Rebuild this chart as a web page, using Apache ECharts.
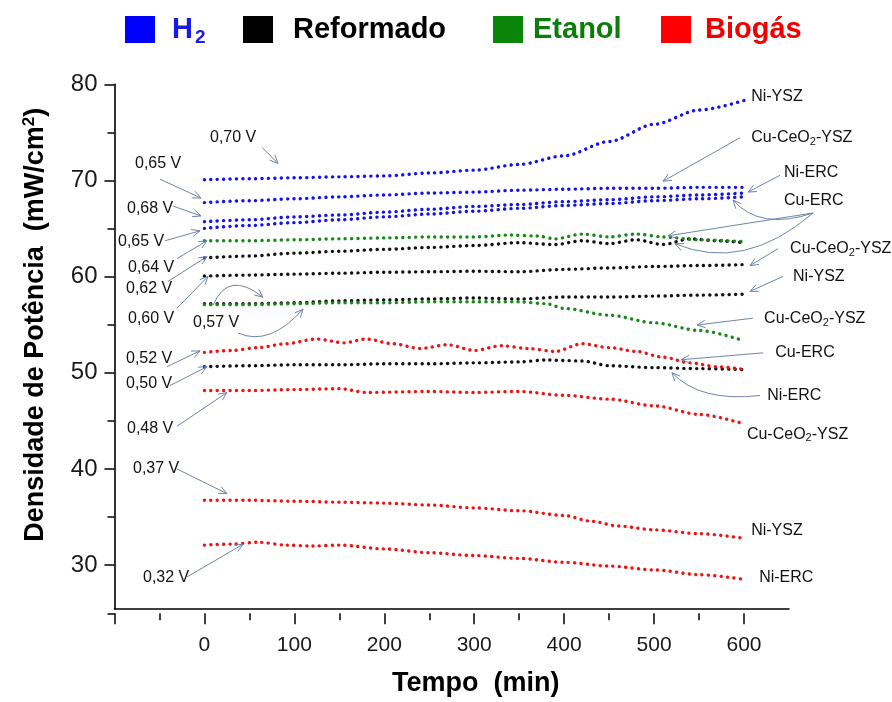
<!DOCTYPE html>
<html><head><meta charset="utf-8">
<script src="https://cdn.jsdelivr.net/npm/echarts@6/dist/echarts.min.js"></script>
<style>html,body{margin:0;padding:0;background:#fff}#c{width:892px;height:702px}</style>
</head><body><div id="c"></div>
<script>
// ---------- DATA ----------
const t50 = [0,50,100,150,200,250,300,350,400,450,500,550,600];
// H2
const h2NiYSZ   = [70.0,70.1,70.2,70.3,70.4,70.7,71.0,71.6,72.5,74.0,75.8,77.3,78.3];
const h2CuCeO2  = [67.6,67.8,68.0,68.2,68.4,68.6,68.7,68.9,69.0,69.1,69.1,69.2,69.2];
const h2NiERC   = [65.6,65.8,66.1,66.3,66.6,66.9,67.2,67.4,67.7,67.9,68.2,68.4,68.6];
const h2CuERC   = [64.9,65.2,65.5,65.8,66.1,66.4,66.7,67.0,67.3,67.5,67.8,68.0,68.2];
// Reformado
const refCuERC_t = [0,50,100,150,200,250,300,350,390,420,450,480,510,540,570,600];
const refCuERC   = [61.8,62.0,62.3,62.5,62.7,62.9,63.1,63.4,63.2,63.6,63.3,63.7,63.2,63.8,63.6,63.4];
const refCuCeO2  = [59.9,60.0,60.1,60.2,60.3,60.35,60.4,60.35,60.6,60.75,60.9,61.0,61.1];
const refNiYSZ   = [57.0,57.0,57.1,57.3,57.4,57.5,57.6,57.5,57.7,57.7,57.8,57.9,58.0];
const refNiERC_t = [0,50,100,150,200,250,300,350,380,420,450,500,550,600];
const refNiERC   = [50.4,50.5,50.6,50.6,50.7,50.7,50.8,50.9,51.1,51.0,50.5,50.3,50.2,50.1];
// Etanol
const etCuERC_t  = [0,50,100,150,200,250,300,340,370,390,420,450,480,510,550,600];
const etCuERC    = [63.6,63.6,63.7,63.8,63.9,64.0,64.0,64.2,64.1,63.8,64.3,64.0,64.3,64.0,63.7,63.5];
const etCuCeO2_t = [0,50,100,150,200,250,300,350,380,400,450,500,550,600];
const etCuCeO2   = [56.9,56.9,57.0,57.1,57.1,57.2,57.2,57.2,57.0,56.5,55.8,55.0,54.2,53.1];
// Biogás
const bioCuERC_t = [0,30,60,90,125,155,180,210,240,270,300,330,360,390,420,450,480,510,540,570,600];
const bioCuERC   = [51.9,52.1,52.4,52.8,53.3,52.9,53.3,52.8,52.3,52.7,52.1,52.6,52.3,52.0,52.8,52.4,52.0,51.4,50.8,50.4,50.1];
const bioCuCeO2_t= [0,50,100,150,180,250,300,350,400,450,500,550,600];
const bioCuCeO2  = [47.9,47.9,48.0,48.1,47.7,47.8,47.7,47.8,47.4,47.0,46.3,45.4,44.4];
const bioNiYSZ_t = [0,50,100,150,200,250,300,350,400,430,460,500,550,600];
const bioNiYSZ   = [36.4,36.4,36.3,36.2,36.1,35.9,35.6,35.3,34.8,34.2,33.7,33.3,32.9,32.4];
const bioNiERC_t = [0,30,60,90,120,150,200,250,300,350,400,450,500,550,600];
const bioNiERC   = [31.7,31.8,32.0,31.7,31.6,31.7,31.3,30.9,30.6,30.3,29.9,29.5,29.1,28.6,28.1];

const categories = ['H₂','Reformado','Etanol','Biogás'];
const xTicks = [0,100,200,300,400,500,600];
const yTicks = [30,40,50,60,70,80];

// annotations (data coordinates)
const leftNotes = [
  {text:'0,70 V', at:[6.2,74.42],  arrows:[{from:[64.3,73.38], to:[81.8,71.71]}]},
  {text:'0,65 V', at:[-77.2,71.71],arrows:[{from:[-49.4,70.05], to:[-3.8,68.08]}]},
  {text:'0,68 V', at:[-86.1,66.93],arrows:[{from:[-34.9,67.24], to:[-3.8,66.20]}]},
  {text:'0,65 V', at:[-96.1,63.50],arrows:[{from:[-43.8,63.60], to:[-4.9,64.64]}]},
  {text:'0,64 V', at:[-85.0,60.80],arrows:[{from:[-30.5,61.73], to:[2.9,63.60]}]},
  {text:'0,62 V', at:[-87.2,58.61],arrows:[{from:[-40.5,59.34], to:[2.9,61.94]}]},
  {text:'0,60 V', at:[-85.0,55.49],arrows:[{from:[-30.5,56.53], to:[4.0,59.86]}]},
  {text:'0,57 V', at:[-12.7,54.97],arrows:[{from:[9.6,56.84], ctrl:[26.2,60.58], to:[65.1,57.68]},
                                          {from:[37.4,53.93], ctrl:[72.4,52.48], to:[109.6,56.43]}]},
  {text:'0,52 V', at:[-87.2,51.23],arrows:[{from:[-41.6,50.40], to:[-4.9,52.06]}]},
  {text:'0,50 V', at:[-87.2,48.63],arrows:[{from:[-38.3,48.42], to:[2.9,50.40]}]},
  {text:'0,48 V', at:[-86.1,43.95],arrows:[{from:[-30.5,44.16], to:[25.1,47.69]}]},
  {text:'0,37 V', at:[-79.4,39.68],arrows:[{from:[-30.5,39.68], to:[25.1,37.09]}]},
  {text:'0,32 V', at:[-68.3,28.25],arrows:[{from:[-19.4,28.36], to:[42.9,31.79]}]}
];
const rightNotes = [
  {text:'Ni-YSZ', at:[607.9,78.67], arrows:[]},
  {text:'Cu-CeO{s|2}-YSZ', at:[607.9,74.40], arrows:[{from:[595.5,74.40], to:[509.9,69.84]}]},
  {text:'Ni-ERC', at:[644.5,70.78], arrows:[{from:[640.1,70.47], to:[604.5,68.70]}]},
  {text:'Cu-ERC', at:[644.5,67.76], arrows:[{from:[676.8,66.51], ctrl:[617.8,64.64], to:[587.8,67.87]},
                                           {from:[676.8,66.51], to:[515.5,64.12]},
                                           {from:[676.8,66.51], ctrl:[600.0,60.28], to:[523.3,63.29]}]},
  {text:'Cu-CeO{s|2}-YSZ', at:[651.2,62.77], arrows:[{from:[637.8,62.77], to:[606.7,61.0]}]},
  {text:'Ni-YSZ', at:[654.5,59.86], arrows:[{from:[643.4,59.86], to:[606.7,58.30]}]},
  {text:'Cu-CeO{s|2}-YSZ', at:[622.3,55.39], arrows:[{from:[610.1,55.49], to:[547.8,54.76]}]},
  {text:'Cu-ERC', at:[634.6,51.85], arrows:[{from:[621.2,51.85], to:[530.0,51.13]}]},
  {text:'Ni-ERC', at:[625.7,47.38], arrows:[{from:[617.8,47.38], ctrl:[551.0,46.66], to:[519.8,49.77]}]},
  {text:'Cu-CeO{s|2}-YSZ', at:[603.2,43.33], arrows:[]},
  {text:'Ni-YSZ', at:[607.9,33.24], arrows:[]},
  {text:'Ni-ERC', at:[616.8,28.25], arrows:[]}
];

// ---------- STYLE ----------
const FONT = '"Liberation Sans", Arial, sans-serif';
const COL = {'H₂':'#1212ee','Reformado':'#111111','Etanol':'#1a871a','Biogás':'#f01212'};
const LEG_ICON = {'H₂':'#0000ff','Reformado':'#000000','Etanol':'#0a850a','Biogás':'#ff0000'};
const LEG_TXT = {'H₂':'#1a1ae6','Reformado':'#000000','Etanol':'#0c7d0c','Biogás':'#f00000'};
const ARROW = '#7084ab';

function pairs(t, v){ return t.map((x,i)=>[x, v[i]]); }
const seriesDefs = [
  ['H₂', t50, h2NiYSZ], ['H₂', t50, h2CuCeO2], ['H₂', t50, h2NiERC], ['H₂', t50, h2CuERC],
  ['Reformado', refCuERC_t, refCuERC], ['Reformado', t50, refCuCeO2], ['Reformado', t50, refNiYSZ], ['Reformado', refNiERC_t, refNiERC],
  ['Etanol', etCuERC_t, etCuERC], ['Etanol', etCuCeO2_t, etCuCeO2],
  ['Biogás', bioCuERC_t, bioCuERC], ['Biogás', bioCuCeO2_t, bioCuCeO2], ['Biogás', bioNiYSZ_t, bioNiYSZ], ['Biogás', bioNiERC_t, bioNiERC]
];
const series = seriesDefs.map(([name,t,v]) => ({
  type:'line', name, xAxisIndex:0, yAxisIndex:0, data:pairs(t,v),
  showSymbol:false, smooth:0.3, smoothMonotone:'x', silent:true, animation:false, z:3,
  itemStyle:{color:COL[name]},
  lineStyle:{color:COL[name], width:3.4, type:[0.1,6.3], cap:'round'}
}));

const tick = {lineStyle:{color:'#000', width:1.5}};
const legendPos = {'H₂':[125,15],'Reformado':[243,15],'Etanol':[493,15],'Biogás':[661,15]};
const legendPadL = {'H₂':12,'Reformado':15,'Etanol':5,'Biogás':9};
const legends = categories.map(name => ({
  left:legendPos[name][0], top:legendPos[name][1], padding:0, selectedMode:false,
  icon:'rect', itemWidth:30, itemHeight:27,
  data:[{name, itemStyle:{color:LEG_ICON[name], borderWidth:0}}],
  formatter: n => n === 'H₂' ? '{h|H}{s|2}' : n,
  textStyle:{fontFamily:FONT, fontSize:29, fontWeight:'bold', color:LEG_TXT[name],
    padding:[0,0,0,legendPadL[name]],
    rich:{h:{fontFamily:FONT, fontSize:29, fontWeight:'bold', color:LEG_TXT[name]},
          s:{fontFamily:FONT, fontSize:19, fontWeight:'bold', color:LEG_TXT[name], padding:[16,0,0,2]}}}
}));

const gLeft = 114.5, gTop = 84.3;
const option = {
  animation:false,
  backgroundColor:'#fff',
  legend: legends,
  grid:[
    {left:gLeft, top:gTop, width:674.5, height:529},
    {left:gLeft, top:gTop, width:629.5, height:529},
    {left:gLeft, top:gTop, width:629.5, height:480.9}
  ],
  xAxis:[
    {gridIndex:0, type:'value', min:-100, max:650,
     axisLine:{show:true, onZero:false, lineStyle:{color:'#000', width:1.6}},
     axisTick:{show:false}, axisLabel:{show:false}, splitLine:{show:false},
     name:'Tempo  (min)', nameLocation:'middle', nameGap:61,
     nameTextStyle:{fontFamily:FONT, fontSize:27, fontWeight:'bold', color:'#000', padding:[0,0,0,48]}},
    {gridIndex:1, type:'value', min:-100, max:600, interval:100,
     axisLine:{show:false, onZero:false}, axisTick:{show:true, length:11, ...tick},
     minorTick:{show:true, splitNumber:2, length:7, ...tick},
     axisLabel:{fontFamily:FONT, fontSize:21, color:'#1a1a1a', margin:21,
       formatter: v => xTicks.includes(v) ? String(v) : ''},
     splitLine:{show:false}, minorSplitLine:{show:false}},
    {gridIndex:2, type:'value', min:-100, max:600, show:false}
  ],
  yAxis:[
    {gridIndex:0, type:'value', min:25, max:80,
     axisLine:{show:true, onZero:false, lineStyle:{color:'#000', width:1.6}},
     axisTick:{show:false}, axisLabel:{show:false}, splitLine:{show:false}},
    {gridIndex:1, type:'value', min:25, max:80, interval:5,
     axisLine:{show:false, onZero:false}, axisTick:{show:true, length:7, ...tick},
     axisLabel:{show:false}, splitLine:{show:false}},
    {gridIndex:2, type:'value', min:30, max:80, interval:10,
     axisLine:{show:false, onZero:false}, axisTick:{show:true, length:10, ...tick},
     axisLabel:{fontFamily:FONT, fontSize:24, color:'#1a1a1a', margin:17,
       formatter: v => yTicks.includes(v) ? String(v) : ''},
     splitLine:{show:false},
     name:'Densidade de Potência  (mW/cm{sup|2})', nameLocation:'middle', nameGap:64,
     nameTextStyle:{fontFamily:FONT, fontSize:27, fontWeight:'bold', color:'#000',
       rich:{sup:{fontFamily:FONT, fontSize:17, fontWeight:'bold', color:'#000', padding:[0,0,13,0]}}}}
  ],
  series: series
};

const chart = echarts.init(document.getElementById('c'), null, {renderer:'canvas'});
chart.setOption(option);

// ---------- annotations ----------
function px(p){ return chart.convertToPixel({gridIndex:0}, p); }
const graphics = [];
function head(tip, from){
  const ang = Math.atan2(tip[1]-from[1], tip[0]-from[0]);
  const L = 9, a = 0.42;
  return {type:'polyline', silent:true, z:10, shape:{points:[
      [tip[0]-L*Math.cos(ang-a), tip[1]-L*Math.sin(ang-a)], tip,
      [tip[0]-L*Math.cos(ang+a), tip[1]-L*Math.sin(ang+a)]]},
    style:{stroke:ARROW, lineWidth:1, fill:null}};
}
function addNote(n){
  const p = px(n.at);
  graphics.push({type:'text', silent:true, z:10, style:{text:n.text, x:p[0], y:p[1],
    fontFamily:FONT, fontSize:16, fill:'#111', align:'left', verticalAlign:'middle',
    rich:{s:{fontFamily:FONT, fontSize:11, fill:'#111', padding:[8,0,0,0]}}}});
  n.arrows.forEach(a => {
    const f = px(a.from), t = px(a.to);
    if (a.ctrl){
      const c = px(a.ctrl);
      graphics.push({type:'bezierCurve', silent:true, z:10,
        shape:{x1:f[0], y1:f[1], x2:t[0], y2:t[1], cpx1:c[0], cpy1:c[1]},
        style:{stroke:ARROW, lineWidth:1, fill:null}});
      graphics.push(head(t, c));
    } else {
      graphics.push({type:'line', silent:true, z:10,
        shape:{x1:f[0], y1:f[1], x2:t[0], y2:t[1]}, style:{stroke:ARROW, lineWidth:1}});
      graphics.push(head(t, f));
    }
  });
}
leftNotes.forEach(addNote);
rightNotes.forEach(addNote);
chart.setOption({graphic: graphics});
</script></body></html>
